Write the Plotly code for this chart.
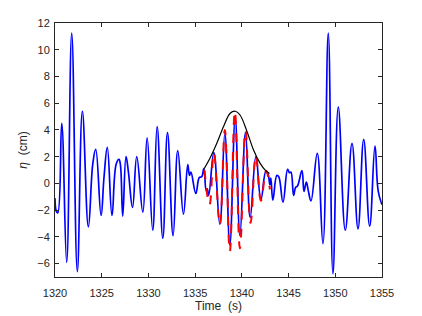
import plotly.graph_objects as go

t_meas = [1320.0, 1320.15, 1320.3, 1320.72, 1321.25, 1321.79, 1322.39, 1322.93, 1323.57,
          1324.05, 1324.36, 1324.93, 1325.25, 1325.6, 1326.1, 1326.55, 1326.85, 1327.0,
          1327.25, 1327.6, 1327.85, 1328.3, 1328.75, 1329.4, 1329.86, 1330.46, 1330.93,
          1331.54, 1332.04, 1332.64, 1333.14, 1333.75, 1334.21, 1334.4, 1334.55, 1335.07,
          1335.45, 1335.7, 1335.93, 1336.18, 1336.3, 1336.45, 1337.0, 1337.64, 1338.18,
          1338.71, 1339.29, 1339.79, 1340.39, 1340.89, 1341.5, 1342.04, 1342.57, 1342.8,
          1343.0, 1343.1, 1343.32, 1343.75, 1343.95, 1344.4, 1344.9, 1345.1, 1345.25,
          1345.54, 1345.75, 1345.95, 1346.43, 1346.65, 1346.9, 1347.1, 1347.4, 1348.07,
          1348.68, 1349.25, 1349.75, 1350.32, 1351.07, 1351.79, 1352.43, 1353.04, 1353.68,
          1354.25, 1354.6, 1355.0]
eta_meas = [-1.1, -2.1, -2.2, 4.5, -5.9, 11.25, -6.6, 5.4, -3.25,
            1.5, 2.55, -2.4, 0.5, 2.7, -2.4, 1.45, 1.8, 1.4,
            -2.45, 2.0, 0.9, -1.8, 2.0, -2.15, 3.4, -3.5, 4.25,
            -4.1, 3.8, -3.9, 2.45, -2.3, 1.4, 0.6, 0.85, -0.75,
            0.45, 0.5, 1.1, -0.55, -0.4, -0.9, 2.3, -3.05, 3.75,
            -4.6, 4.9, -3.9, 3.8, -2.55, 2.0, -1.2, 0.9, 0.7,
            -0.1, 0.4, -1.25, 0.6, 0.5, -1.4, 1.05, 0.8, 0.85,
            -0.9, -0.3, -0.2, 0.95, -0.6, 0.1, -0.5, -1.3, 2.25,
            -4.5, 11.25, -6.75, 5.7, -3.5, 3.0, -3.4, 3.3, -3.2,
            2.8, -0.6, -1.6]

# reconstructed wave packet (red dashed)
t_packet = [1336.0, 1336.54, 1337.0, 1337.64, 1338.18, 1338.71, 1339.25, 1339.79,
            1340.39, 1340.93, 1341.5, 1342.04, 1342.6, 1343.0]
eta_packet = [1.0, -1.6, 2.3, -3.1, 4.0, -5.1, 5.4, -4.85,
              3.95, -2.95, 2.1, -1.3, 0.95, -0.45]

# envelope (black)
t_env = [1335.96, 1336.6, 1337.32, 1338.04, 1338.75, 1339.29, 1339.82, 1340.54,
         1341.25, 1341.96, 1342.5, 1342.96]
eta_env = [1.1, 1.9, 3.0, 4.25, 5.25, 5.4, 5.1, 3.9, 2.5, 1.5, 1.0, 0.75]

x_ticks = [1320, 1325, 1330, 1335, 1340, 1345, 1350, 1355]
y_ticks = [-6, -4, -2, 0, 2, 4, 6, 8, 10, 12]

fig = go.Figure()
fig.add_trace(go.Scatter(x=t_meas, y=eta_meas, mode="lines",
                         line=dict(color="#0000ff", width=1.7, shape="spline", smoothing=1.2)))
fig.add_trace(go.Scatter(x=t_packet, y=eta_packet, mode="lines",
                         line=dict(color="#ff0000", width=2, dash="dash", shape="spline", smoothing=1.2)))
fig.add_trace(go.Scatter(x=t_env, y=eta_env, mode="lines",
                         line=dict(color="#000000", width=1.2, shape="spline", smoothing=1.0)))

font = dict(family="Liberation Sans", size=11, color="#262626")
axis_style = dict(showline=True, mirror="ticks", linecolor="#262626", linewidth=1,
                  ticks="inside", ticklen=4, tickcolor="#262626", showgrid=False,
                  zeroline=False, tickfont=font, automargin=False)

fig.update_xaxes(range=[1320, 1355], tickvals=x_ticks, ticklabelstandoff=6,
                 title=dict(text="Time  (s)", font=dict(font, size=12), standoff=2),
                 **axis_style)
fig.update_yaxes(range=[-7, 12], tickvals=y_ticks, ticklabelstandoff=2,
                 title=dict(text="<i>η</i>  (cm)", font=dict(font, size=12), standoff=7),
                 **axis_style)

# page body adds an 8px offset, so the figure is a bit smaller than the window
fig.update_layout(width=414, height=308, showlegend=False,
                  margin=dict(l=47, r=40, t=15, b=39),
                  plot_bgcolor="white", paper_bgcolor="white")

fig.write_html("out.html")
